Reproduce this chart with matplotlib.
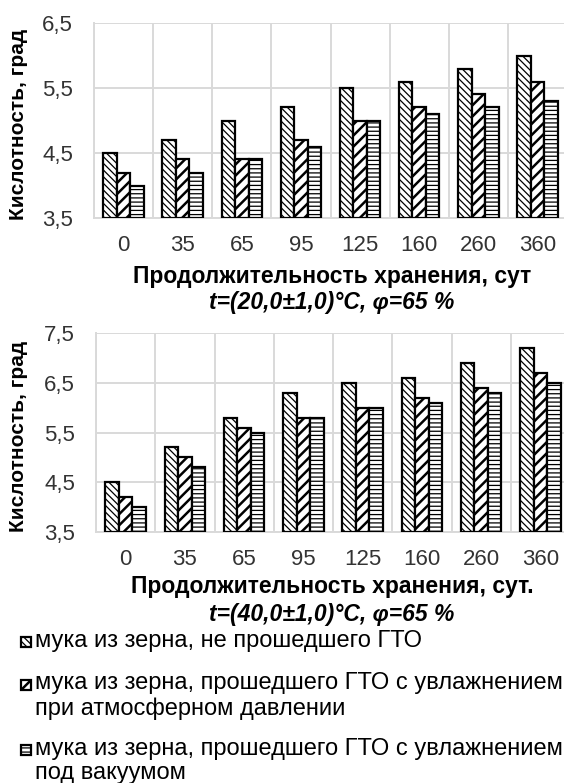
import matplotlib
matplotlib.use("Agg")
import matplotlib.pyplot as plt
from matplotlib.patches import Rectangle
import numpy as np

plt.rcParams['font.family'] = ['Liberation Sans', 'DejaVu Sans']

days = ['0', '35', '65', '95', '125', '160', '260', '360']
series_names = ['мука из зерна, не прошедшего ГТО',
                'мука из зерна, прошедшего ГТО с увлажнением\nпри атмосферном давлении',
                'мука из зерна, прошедшего ГТО с увлажнением\nпод вакуумом']

# t = 20 °C
t20_no_gto = [4.5, 4.7, 5.0, 5.2, 5.5, 5.6, 5.8, 6.0]
t20_atm = [4.2, 4.4, 4.4, 4.7, 5.0, 5.2, 5.4, 5.6]
t20_vac = [4.0, 4.2, 4.4, 4.6, 5.0, 5.1, 5.2, 5.3]
# t = 40 °C
t40_no_gto = [4.5, 5.2, 5.8, 6.3, 6.5, 6.6, 6.9, 7.2]
t40_atm = [4.2, 5.0, 5.6, 5.8, 6.0, 6.2, 6.4, 6.7]
t40_vac = [4.0, 4.8, 5.5, 5.8, 6.0, 6.1, 6.3, 6.5]

yticks_top = [3.5, 4.5, 5.5, 6.5]
yticks_bot = [3.5, 4.5, 5.5, 6.5, 7.5]

W, H = 564, 783
fig = plt.figure(figsize=(W / 100, H / 100), dpi=100)

def fx(x):
    return x / W

def fy(y):
    return 1 - y / H

hatches = ['\\\\\\\\\\', '///', '----']
hatch_lw = [0.9, 1.8, 0.9]
GRID = '#d9d9d9'
TICK_COL = '#333333'
TICK_FS = 16
LAB_FS = 16.5
YLAB_FS = 15
LEG_FS = 17


def draw(ax, data, yticks, ylim):
    x = np.arange(len(days))
    w = 0.228
    for i, vals in enumerate(data):
        bars = ax.bar(x + (i - 1) * w, np.array(vals) - ylim[0], bottom=ylim[0], width=w,
                      color='white', edgecolor='black', linewidth=1.6,
                      hatch=hatches[i], zorder=3)
        for b in bars:
            if hasattr(b, 'set_hatch_linewidth'):
                b.set_hatch_linewidth(hatch_lw[i])
    ax.set_xlim(-0.5, len(days) - 0.5)
    ax.set_ylim(*ylim)
    ax.set_yticks(yticks)
    ax.set_yticklabels([f'{v:.1f}'.replace('.', ',') for v in yticks], fontsize=TICK_FS)
    ax.set_xticks(x)
    ax.set_xticklabels(days, fontsize=TICK_FS)
    ax.set_xticks(np.arange(len(days) + 1) - 0.5, minor=True)
    ax.tick_params(axis='both', which='both', length=0, labelcolor=TICK_COL)
    ax.tick_params(axis='x', pad=12)
    ax.tick_params(axis='y', pad=15)
    ax.grid(True, axis='y', which='major', color=GRID, linewidth=1.4, zorder=0)
    ax.grid(True, axis='x', which='minor', color=GRID, linewidth=1.4, zorder=0)
    ax.set_axisbelow(True)
    for s in ['top', 'right']:
        ax.spines[s].set_visible(False)
    for s in ['left', 'bottom']:
        ax.spines[s].set_color(GRID)
        ax.spines[s].set_linewidth(1.4)
    ax.set_ylabel('Кислотность, град', fontsize=YLAB_FS, fontweight='bold')


ax1 = fig.add_axes([fx(94), fy(218), 473 / W, 195 / H])
draw(ax1, [t20_no_gto, t20_atm, t20_vac], yticks_top, (3.5, 6.5))
ax1.yaxis.set_label_coords((28 - 94) / 473, 0.48)

ax2 = fig.add_axes([fx(96), fy(532), 474 / W, 199 / H])
draw(ax2, [t40_no_gto, t40_atm, t40_vac], yticks_bot, (3.5, 7.5))
ax2.yaxis.set_label_coords((28 - 96) / 474, 0.48)

fig.text(fx(332), fy(277), 'Продолжительность хранения, сут', ha='center', va='center',
         fontsize=LAB_FS, fontweight='bold')
fig.text(fx(332), fy(303), 't=(20,0±1,0)°C, φ=65 %', ha='center', va='center',
         fontsize=LAB_FS, fontweight='bold', style='italic')
fig.text(fx(332), fy(587), 'Продолжительность хранения, сут.', ha='center', va='center',
         fontsize=LAB_FS, fontweight='bold')
fig.text(fx(332), fy(614), 't=(40,0±1,0)°C, φ=65 %', ha='center', va='center',
         fontsize=LAB_FS, fontweight='bold', style='italic')

# legend (manual, handle aligned with the first text line)
first_line_y = [642, 685, 750]
box = 10
for i, name in enumerate(series_names):
    yc = first_line_y[i]
    r = Rectangle((fx(21), fy(yc + box / 2)), box / W, box / H, transform=fig.transFigure,
                  facecolor='white', edgecolor='black', linewidth=1.6, hatch=hatches[i])
    if hasattr(r, 'set_hatch_linewidth'):
        r.set_hatch_linewidth(hatch_lw[i])
    fig.add_artist(r)
    fig.text(fx(35), fy(yc - 12.5), name, ha='left', va='top', fontsize=LEG_FS,
             linespacing=1.15)

fig.savefig('out.png', dpi=100)
